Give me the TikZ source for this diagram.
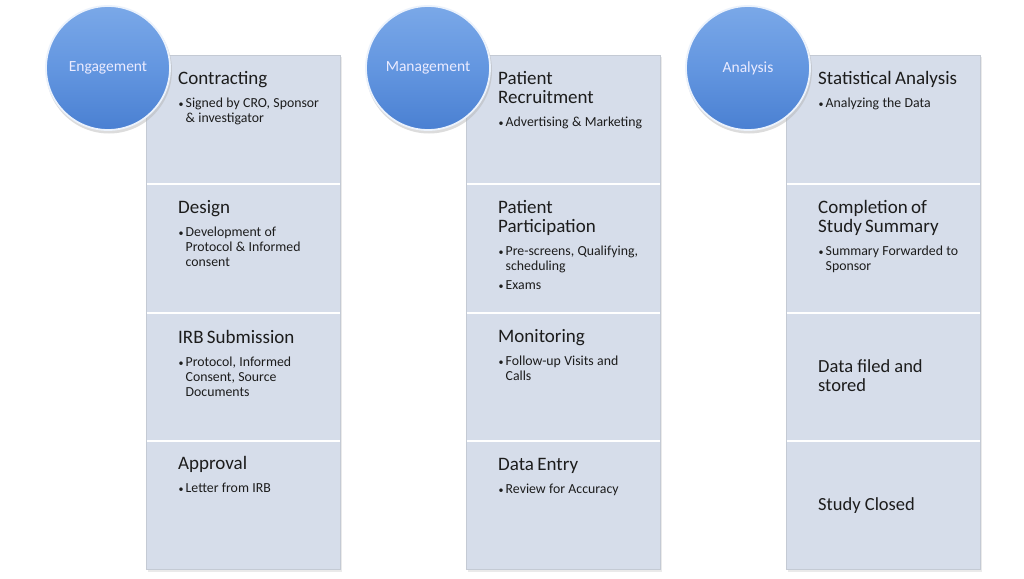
\documentclass[tikz,border=0pt]{standalone}
\usepackage{fontspec}
\setmainfont{Carlito}
\definecolor{cellfill}{HTML}{D6DDEA}
\definecolor{celledge}{HTML}{C4CAD4}
\definecolor{balltop}{HTML}{7AA8E8}
\definecolor{ballmid}{HTML}{6396E0}
\definecolor{ballbot}{HTML}{4A80D2}
\definecolor{txt}{HTML}{1C1C1C}
\tikzset{
  cell/.style={rectangle, fill=cellfill, draw=celledge, line width=0.6pt,
    minimum width=194pt, minimum height=128pt, anchor=north west, inner sep=0pt},
  cellshadow/.style={fill=black!15, opacity=0.55},
  ball/.style={circle, minimum size=124pt, inner sep=0pt, draw=white!85!balltop, line width=1.8pt,
    top color=balltop, bottom color=ballbot, middle color=ballmid,
    text=white!92!blue, font=\fontsize{15.5}{17}\selectfont},
  content/.style={anchor=north west, inner sep=0pt, text width=165pt, align=left, text=txt},
  plain/.style={anchor=west, inner sep=0pt, align=left, text=txt},
}
\newcommand{\ttl}[1]{{\fontsize{19}{19}\selectfont\begin{tabular}[t]{@{}l@{}}#1\end{tabular}\par}\vspace{6pt}}
\newcommand{\bul}[1]{{\fontsize{13.8}{15}\selectfont\noindent\makebox[7.5pt][l]{\hspace{0.5pt}\raisebox{0.5pt}{\fontsize{10}{10}\selectfont •}}\begin{tabular}[t]{@{}l@{}}#1\end{tabular}\par}}
\newcommand{\pln}[1]{{\fontsize{18.5}{19.5}\selectfont\begin{tabular}{@{}l@{}}#1\end{tabular}}}
\begin{document}
\begin{tikzpicture}[x=1pt,y=-1pt]
\useasboundingbox[fill=white] (0,0) rectangle (1024,578);
% shadows of columns
\foreach \cx in {146,466,786}{
  \fill[cellshadow] (\cx+1.5,57) rectangle (\cx+195.5,571.5);
}
% column 1
\node[cell] (a1) at (146,55) {};
\node[cell] (a2) at (146,184) {};
\node[cell] (a3) at (146,313) {};
\node[cell] (a4) at (146,441) {};
% column 2
\node[cell] (b1) at (466,55) {};
\node[cell] (b2) at (466,184) {};
\node[cell] (b3) at (466,313) {};
\node[cell] (b4) at (466,441) {};
% column 3
\node[cell] (c1) at (786,55) {};
\node[cell] (c2) at (786,184) {};
\node[cell] (c3) at (786,313) {};
\node[cell] (c4) at (786,441) {};
% white separators
\foreach \cx in {146,466,786}{
  \foreach \yy in {184,313,441}{
    \draw[white, line width=1.2pt] (\cx+0.5,\yy) -- (\cx+193.5,\yy);
  }
}
% texts column 1
\node[content] (ta1) at ([xshift=32pt,yshift=-16pt]a1.north west) {\ttl{Contracting}\bul{Signed by CRO, Sponsor\\\& investigator}};
\node[content] (ta2) at ([xshift=32pt,yshift=-16pt]a2.north west) {\ttl{Design}\bul{Development of\\Protocol \& Informed\\consent}};
\node[content] (ta3) at ([xshift=32pt,yshift=-17pt]a3.north west) {\ttl{IRB Submission}\bul{Protocol, Informed\\Consent, Source\\Documents}};
\node[content] (ta4) at ([xshift=32pt,yshift=-15pt]a4.north west) {\ttl{Approval}\bul{Letter from IRB}};
% texts column 2
\node[content] (tb1) at ([xshift=32pt,yshift=-16pt]b1.north west) {\ttl{Patient\\Recruitment}\bul{Advertising \& Marketing}};
\node[content] (tb2) at ([xshift=32pt,yshift=-16pt]b2.north west) {\ttl{Patient\\Participation}\bul{Pre-screens, Qualifying,\\scheduling}\vspace{3pt}\bul{Exams}};
\node[content] (tb3) at ([xshift=32pt,yshift=-16pt]b3.north west) {\ttl{Monitoring}\bul{Follow-up Visits and\\Calls}};
\node[content] (tb4) at ([xshift=32pt,yshift=-16pt]b4.north west) {\ttl{Data Entry}\bul{Review for Accuracy}};
% texts column 3
\node[content] (tc1) at ([xshift=32pt,yshift=-16pt]c1.north west) {\ttl{Statistical Analysis}\bul{Analyzing the Data}};
\node[content] (tc2) at ([xshift=32pt,yshift=-16pt]c2.north west) {\ttl{Completion of\\Study Summary}\bul{Summary Forwarded to\\Sponsor}};
\node[plain] (tc3) at ([xshift=32pt,yshift=-1pt]c3.west) {\pln{Data filed and\\stored}};
\node[plain] (tc4) at ([xshift=32pt,yshift=-1pt]c4.west) {\pln{Study Closed}};
% circles
\foreach \cx in {108,428,748}{
  \fill[black!30, opacity=0.45] (\cx+1,70.5) circle (63);
}
\node[ball] (e1) at (108,68) {Engagement};
\node[ball] (e2) at (428,68) {Management};
\node[ball] (e3) at (748,68) {Analysis};
\end{tikzpicture}
\end{document}
